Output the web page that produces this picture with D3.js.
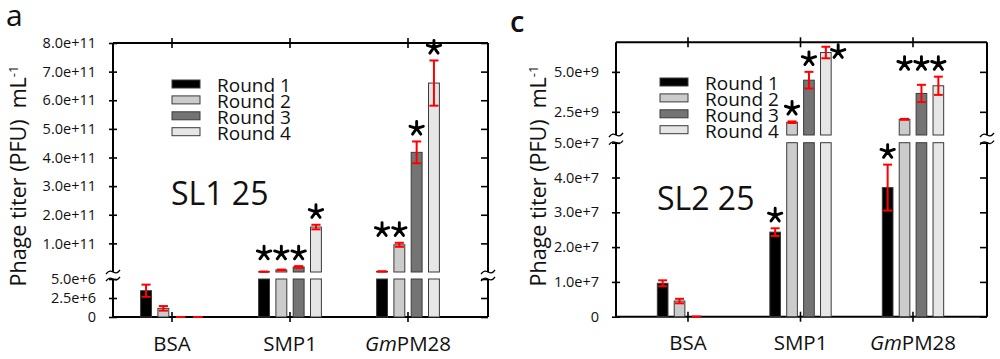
<!DOCTYPE html>
<html><head><meta charset="utf-8">
<script src="https://cdn.jsdelivr.net/npm/d3@7"></script>
<style>body{margin:0;background:#fff} svg{display:block} text{font-family:"Open Sans", "Noto Sans", sans-serif}</style>
</head><body><svg id="chart" width="1000" height="359"></svg>
<script>
// ---------- data ----------
const categories = ["BSA", "SMP1", "GmPM28"];
const rounds = ["Round 1", "Round 2", "Round 3", "Round 4"];
const roundColors = ["#000000", "#cccccc", "#747474", "#e6e6e6"];

// panel a (SL1 25): rows = categories, cols = rounds
const panelAValues = [[3.46e6, 1.14e6, 0, 0], [1.0e9, 7.0e9, 1.75e10, 1.57e11], [2.0e9, 9.5e10, 4.18e11, 6.6e11]];
const panelAErrors = [[0.8e6, 0.3e6, 0, 0], [0, 1.5e9, 3.0e9, 0.08e11], [0, 0.07e11, 0.38e11, 0.79e11]];
const panelAStars = [["", "", "", ""], ["a", "a", "a", "b"], ["a", "a", "b", "c"]];
const panelALowerTicks = [0, 2.5e6, 5e6];
const panelALowerLabels = ["0", "2.5e+6", "5.0e+6"];
const panelAUpperTicks = [1e11, 2e11, 3e11, 4e11, 5e11, 6e11, 7e11, 8e11];
const panelAUpperLabels = ["1.0e+11", "2.0e+11", "3.0e+11", "4.0e+11", "5.0e+11", "6.0e+11", "7.0e+11", "8.0e+11"];

// panel c (SL2 25)
const panelCValues = [[0.96e7, 0.45e7, 0, null], [2.43e7, 1.85e9, 4.48e9, 6.21e9], [3.71e7, 2.03e9, 3.65e9, 4.13e9]];
const panelCErrors = [[0.085e7, 0.065e7, 0, null], [0.11e7, 0.05e9, 0.52e9, 0.36e9], [0.66e7, 0.03e9, 0.54e9, 0.57e9]];
const panelCStars = [["", "", "", ""], ["a", "b", "c", "R"], ["a", "b", "b", "b"]];
const panelCLowerTicks = [0, 1e7, 2e7, 3e7, 4e7, 5e7];
const panelCLowerLabels = ["0", "1.0e+7", "2.0e+7", "3.0e+7", "4.0e+7", "5.0e+7"];
const panelCUpperTicks = [2.5e9, 5e9];
const panelCUpperLabels = ["2.5e+9", "5.0e+9"];

const yTitle = "Phage titer (PFU)  mL";
const yTitleSup = "-1";

// ---------- drawing ----------
const svg = d3.select("#chart");

function tilde(x, y) {
  return `M${x-7},${y+2} C${x-4},${y-2} ${x-2},${y-1} ${x},${y} S${x+4},${y+2} ${x+7},${y-2}`;
}
function starPath(cx, cy, r) {
  let d = "";
  for (let k = 0; k < 5; k++) {
    const a = (-90 + k * 72) * Math.PI / 180;
    d += `M${cx},${cy} L${cx + r * Math.cos(a)},${cy + r * Math.sin(a)} `;
  }
  return d;
}

function drawPanel(cfg, values, errors, stars, lowTicks, lowLabels, upTicks, upLabels) {
  const g = svg.append("g");
  const x = d3.scaleBand().domain(categories).range(cfg.xRange);
  const xc = c => x(c) + x.bandwidth() / 2;
  const inner = d3.scaleBand().domain(rounds).range([-2 * cfg.step, 2 * cfg.step]).paddingInner(0.37).paddingOuter(0.185);
  const yLow = d3.scaleLinear().domain(cfg.lowDomain).range(cfg.lowRange);
  const yUp = d3.scaleLinear().domain(cfg.upDomain).range(cfg.upRange);
  const lowMax = cfg.lowDomain[1], upMin = cfg.upDomain[0];

  // frame lines
  const line = g.append("g").attr("stroke", "#000").attr("stroke-width", 2).attr("fill", "none");
  [cfg.left, cfg.right].forEach(xx => {
    line.append("line").attr("x1", xx).attr("x2", xx).attr("y1", cfg.top).attr("y2", cfg.upRange[0]);
    line.append("line").attr("x1", xx).attr("x2", xx).attr("y1", cfg.lowRange[1]).attr("y2", cfg.bottom);
    line.append("path").attr("d", tilde(xx, cfg.upRange[0])).attr("stroke-width", 1.3);
    line.append("path").attr("d", tilde(xx, cfg.lowRange[1])).attr("stroke-width", 1.3);
  });
  line.append("line").attr("x1", cfg.left).attr("x2", cfg.right).attr("y1", cfg.top).attr("y2", cfg.top);
  line.append("line").attr("x1", cfg.left).attr("x2", cfg.right).attr("y1", cfg.bottom).attr("y2", cfg.bottom);

  function styleAxis(sel) {
    sel.select(".domain").remove();
    sel.selectAll(".tick line").attr("stroke", "#000").attr("stroke-width", 1.6);
    sel.attr("font-family", null).attr("font-size", null);
  }
  [[yUp, upTicks, upLabels], [yLow, lowTicks, lowLabels]].forEach(([s, tv, tl]) => {
    g.append("g").attr("transform", `translate(${cfg.left},0)`)
      .call(d3.axisLeft(s).tickValues(tv).tickFormat((d, k) => tl[k]).tickSize(4).tickPadding(13))
      .call(styleAxis).selectAll("text").attr("font-size", 14.5).attr("fill", "#111");
    g.append("g").attr("transform", `translate(${cfg.left},0)`)
      .call(d3.axisRight(s).tickValues(tv).tickFormat("").tickSize(4)).call(styleAxis);
    g.append("g").attr("transform", `translate(${cfg.right},0)`)
      .call(d3.axisLeft(s).tickValues(tv).tickFormat("").tickSize(7)).call(styleAxis);
  });
  const bx = g.append("g").attr("transform", `translate(0,${cfg.bottom})`)
    .call(d3.axisBottom(x).tickSize(5).tickPadding(14)).call(styleAxis);
  bx.selectAll("text").attr("font-size", 20.5).attr("fill", "#111").each(function(d) {
    const t = d3.select(this);
    if (d.startsWith("Gm")) {
      t.text(null);
      t.append("tspan").attr("font-style", "italic").text("Gm");
      t.append("tspan").text(d.slice(2));
    }
  });
  g.append("g").attr("transform", `translate(0,${cfg.bottom})`).call(d3.axisTop(x).tickSize(5).tickFormat("")).call(styleAxis);
  g.append("g").attr("transform", `translate(0,${cfg.top})`).call(d3.axisTop(x).tickSize(5).tickFormat("")).call(styleAxis);
  g.append("g").attr("transform", `translate(0,${cfg.top})`).call(d3.axisBottom(x).tickSize(5).tickFormat("")).call(styleAxis);

  // bars
  const errTop = [];
  categories.forEach((c, i) => {
    errTop.push([]);
    rounds.forEach((r, j) => {
      const v = values[i][j];
      const bx = xc(c) + inner(r), bw = inner.bandwidth();
      if (v == null) { errTop[i].push(null); return; }
      if (v > 0) {
        const top = yLow(Math.min(v, lowMax));
        g.append("rect").attr("x", bx).attr("y", top).attr("width", bw).attr("height", cfg.lowRange[0] - top)
          .attr("fill", roundColors[j]).attr("stroke", "#3a3a3a").attr("stroke-width", 1);
      }
      if (v > lowMax && v > upMin) {
        const top = yUp(v);
        g.append("rect").attr("x", bx).attr("y", top).attr("width", bw).attr("height", cfg.upRange[0] - top)
          .attr("fill", roundColors[j]).attr("stroke", "#3a3a3a").attr("stroke-width", 1);
      }
      const ys = v <= lowMax ? yLow : yUp;
      const e = errors[i][j] || 0;
      const y1 = ys(v + e), y2 = ys(v - e), cx = bx + bw / 2, cw = bw * 0.42;
      const eg = g.append("g").attr("stroke", "#ff0000").attr("stroke-width", 2).attr("fill", "none");
      eg.append("line").attr("x1", cx).attr("x2", cx).attr("y1", y1).attr("y2", y2);
      eg.append("line").attr("x1", cx - cw).attr("x2", cx + cw).attr("y1", y1).attr("y2", y1);
      eg.append("line").attr("x1", cx - cw).attr("x2", cx + cw).attr("y1", y2).attr("y2", y2);
      errTop[i].push(y1);
    });
  });

  // stars
  categories.forEach((c, i) => {
    rounds.forEach((r, j) => {
      const code = stars[i][j];
      if (!code) return;
      const bx = xc(c) + inner(r), bw = inner.bandwidth();
      let sx, sy;
      if (code === "R") { sx = bx + bw + 7; sy = errTop[i][j] + 5; }
      else {
        sx = bx + bw / 2;
        sy = d3.min(rounds.map((rr, k) => stars[i][k] === code ? errTop[i][k] : Infinity)) - 13;
      }
      g.append("path").attr("d", starPath(sx, sy, 7)).attr("stroke", "#000")
        .attr("stroke-width", 2.9).attr("stroke-linecap", "round").attr("fill", "none");
    });
  });

  // legend
  rounds.forEach((r, j) => {
    const ly = cfg.legendY + j * 15.9;
    g.append("rect").attr("x", cfg.legendX).attr("y", ly).attr("width", 28).attr("height", 8)
      .attr("fill", roundColors[j]).attr("stroke", "#3a3a3a").attr("stroke-width", 1);
    g.append("text").attr("x", cfg.legendX + 45).attr("y", ly + 12).attr("font-size", 19).attr("fill", "#111").text(r);
  });

  g.append("text").attr("x", cfg.titleX).attr("y", cfg.titleY).attr("font-size", 32).attr("fill", "#111").text(cfg.title);
  g.append("text").attr("x", cfg.letterX).attr("y", cfg.letterY).attr("font-size", cfg.letterSize)
    .attr("font-weight", cfg.letterWeight).attr("fill", "#111").text(cfg.letter);
  const yt = g.append("text").attr("transform", `translate(${cfg.yTitleX},${cfg.yTitleY}) rotate(-90)`)
    .attr("text-anchor", "middle").attr("font-size", 21.5).attr("fill", "#111").style("white-space", "pre");
  yt.append("tspan").text(yTitle);
  yt.append("tspan").attr("dy", -8).attr("font-size", 13).text(yTitleSup);
}

drawPanel({
  xRange: [113, 467], step: 17.3, left: 113, right: 488, top: 43, bottom: 317,
  lowDomain: [0, 5e6], lowRange: [317, 279], upDomain: [0, 8e11], upRange: [272, 43],
  legendX: 172, legendY: 80, title: "SL1 25", titleX: 171, titleY: 204.5,
  letter: "a", letterX: 6, letterY: 26, letterSize: 30, letterWeight: 400, yTitleX: 26, yTitleY: 176
}, panelAValues, panelAErrors, panelAStars, panelALowerTicks, panelALowerLabels, panelAUpperTicks, panelAUpperLabels);

drawPanel({
  xRange: [631.75, 969.25], step: 16.9, left: 616, right: 987, top: 42.3, bottom: 316.7,
  lowDomain: [0, 5e7], lowRange: [316.7, 142.7], upDomain: [1.05e9, 6.85e9], upRange: [135, 42.3],
  legendX: 660, legendY: 78, title: "SL2 25", titleX: 657, titleY: 209.5,
  letter: "c", letterX: 510, letterY: 32, letterSize: 29, letterWeight: 600, yTitleX: 546, yTitleY: 176
}, panelCValues, panelCErrors, panelCStars, panelCLowerTicks, panelCLowerLabels, panelCUpperTicks, panelCUpperLabels);
</script>
</body></html>
